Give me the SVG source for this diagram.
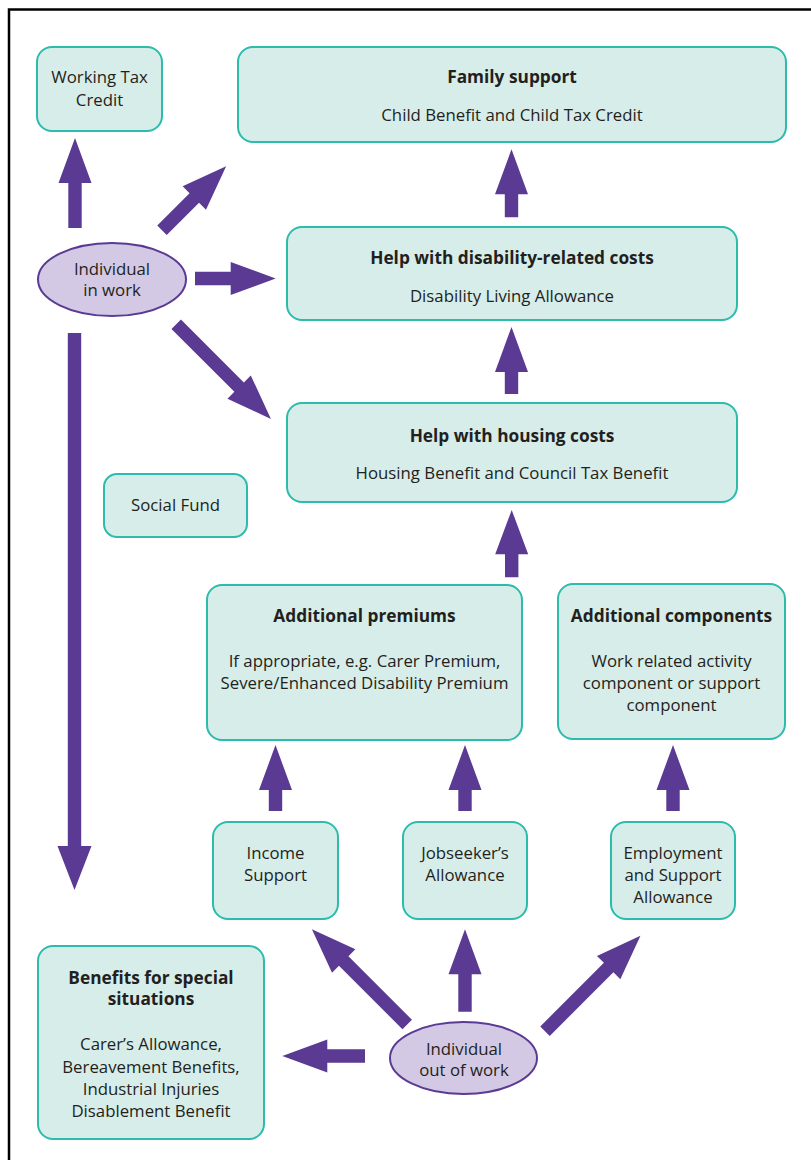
<svg xmlns="http://www.w3.org/2000/svg" width="811" height="1160" viewBox="0 0 811 1160">
<style>
.box{fill:#d7ede9;stroke:#2bbcad;stroke-width:2}
.ell{fill:#d3c9e4;stroke:#5b3a93;stroke-width:2}
.arr{fill:#5b3a93}
text{font-family:"Open Sans","Noto Sans","Liberation Sans",sans-serif;font-size:16.8px;fill:#231f20;text-anchor:middle}
.b{font-weight:bold;font-size:17.3px}
</style>
<rect width="811" height="1160" fill="#fff"/>
<path d="M9,1170 V9.5 H830" fill="none" stroke="#000" stroke-width="2.5"/>

<g id="working-tax-credit">
<rect class="box" x="37" y="47" width="125" height="84" rx="15"/>
<text x="99.5" y="83">Working Tax</text>
<text x="99.5" y="106">Credit</text>
</g>
<g id="family-support">
<rect class="box" x="238" y="47" width="548" height="95" rx="15"/>
<text class="b" x="512" y="83">Family support</text>
<text x="512" y="121">Child Benefit and Child Tax Credit</text>
</g>
<g id="disability-costs">
<rect class="box" x="287" y="227" width="450" height="93" rx="15"/>
<text class="b" x="512" y="264">Help with disability-related costs</text>
<text x="512" y="302">Disability Living Allowance</text>
</g>
<g id="housing-costs">
<rect class="box" x="287" y="403" width="450" height="99" rx="15"/>
<text class="b" x="512" y="441.5">Help with housing costs</text>
<text x="512" y="479">Housing Benefit and Council Tax Benefit</text>
</g>
<g id="social-fund">
<rect class="box" x="104" y="474" width="143" height="63" rx="13"/>
<text x="175.5" y="511">Social Fund</text>
</g>
<g id="additional-premiums">
<rect class="box" x="207" y="585" width="315" height="155" rx="15"/>
<text class="b" x="364.5" y="622">Additional premiums</text>
<text x="364.5" y="666.5">If appropriate, e.g. Carer Premium,</text>
<text x="364.5" y="689">Severe/Enhanced Disability Premium</text>
</g>
<g id="additional-components">
<rect class="box" x="558" y="584" width="227" height="155" rx="15"/>
<text class="b" x="671.5" y="621.5">Additional components</text>
<text x="671.5" y="666.5">Work related activity</text>
<text x="671.5" y="689">component or support</text>
<text x="671.5" y="710.5">component</text>
</g>
<g id="income-support">
<rect class="box" x="213" y="822" width="125" height="97" rx="15"/>
<text x="275.5" y="858.5">Income</text>
<text x="275.5" y="881">Support</text>
</g>
<g id="jobseekers-allowance">
<rect class="box" x="403" y="822" width="124" height="97" rx="15"/>
<text x="465" y="858.5">Jobseeker’s</text>
<text x="465" y="881">Allowance</text>
</g>
<g id="employment-support-allowance">
<rect class="box" x="611" y="822" width="124" height="97" rx="15"/>
<text x="673" y="858.5">Employment</text>
<text x="673" y="880.5">and Support</text>
<text x="673" y="902.5">Allowance</text>
</g>
<g id="special-situations">
<rect class="box" x="38" y="946" width="226" height="193" rx="15"/>
<text class="b" x="151" y="983.5">Benefits for special</text>
<text class="b" x="151" y="1005">situations</text>
<text x="151" y="1050">Carer’s Allowance,</text>
<text x="151" y="1072.5">Bereavement Benefits,</text>
<text x="151" y="1095">Industrial Injuries</text>
<text x="151" y="1116.5">Disablement Benefit</text>
</g>
<g id="individual-in-work">
<ellipse class="ell" cx="112" cy="279.5" rx="74" ry="36.5"/>
<text x="112" y="275">Individual</text>
<text x="112" y="296">in work</text>
</g>
<g id="individual-out-of-work">
<ellipse class="ell" cx="463.5" cy="1058" rx="73.5" ry="36"/>
<text x="464" y="1054.5">Individual</text>
<text x="464" y="1075.5">out of work</text>
</g>

<g id="connectors" class="arr">
<path transform="translate(75,228) rotate(-90)" d="M0,-6.7H45V-16.5L90,0L45,16.5V6.7H0Z"/>
<path transform="translate(162,230.3) rotate(-45)" d="M0,-6.7H45.7V-16.5L90.7,0L45.7,16.5V6.7H0Z"/>
<path transform="translate(195,278.5)" d="M0,-6.7H35.7V-16.5L80.7,0L35.7,16.5V6.7H0Z"/>
<path transform="translate(176.2,324.2) rotate(45)" d="M0,-6.7H89V-16.5L134,0L89,16.5V6.7H0Z"/>
<path transform="translate(74.5,333) rotate(90)" d="M0,-6.7H513V-17L557,0L513,17V6.7H0Z"/>
<path transform="translate(511.5,217.3) rotate(-90)" d="M0,-6.7H23V-16.5L68,0L23,16.5V6.7H0Z"/>
<path transform="translate(511.5,394) rotate(-90)" d="M0,-6.7H22V-16.5L67,0L22,16.5V6.7H0Z"/>
<path transform="translate(511.7,577.3) rotate(-90)" d="M0,-6.7H23V-16.5L67.3,0L23,16.5V6.7H0Z"/>
<path transform="translate(275.5,811) rotate(-90)" d="M0,-6.7H21V-16.5L66,0L21,16.5V6.7H0Z"/>
<path transform="translate(465,811) rotate(-90)" d="M0,-6.7H21V-16.5L66,0L21,16.5V6.7H0Z"/>
<path transform="translate(673,811) rotate(-90)" d="M0,-6.7H21V-16.5L66,0L21,16.5V6.7H0Z"/>
<path transform="translate(407.2,1024.5) rotate(-135)" d="M0,-6.7H89.8V-16.5L134.8,0L89.8,16.5V6.7H0Z"/>
<path transform="translate(465,1011.7) rotate(-90)" d="M0,-6.7H37.4V-16.5L82.4,0L37.4,16.5V6.7H0Z"/>
<path transform="translate(545,1031.2) rotate(-45)" d="M0,-6.7H90V-16.5L135,0L90,16.5V6.7H0Z"/>
<path transform="translate(365,1056) rotate(180)" d="M0,-6.7H37.7V-16.5L82.7,0L37.7,16.5V6.7H0Z"/>
</g>
</svg>
